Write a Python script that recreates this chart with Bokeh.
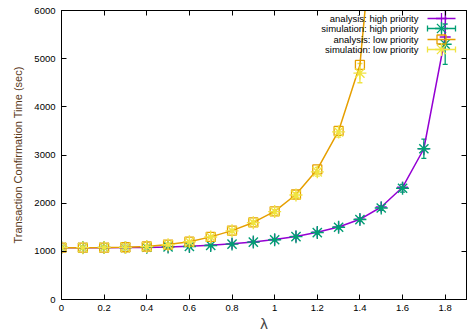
from bokeh.plotting import figure
from bokeh.models import Range1d, FixedTicker, LinearAxis, Whisker, TeeHead, ColumnDataSource
from bokeh.embed import file_html
from bokeh.resources import INLINE
from bokeh.core.properties import value

# ---- data ----
lam_ana_high = [0.0, 0.1, 0.2, 0.3, 0.4, 0.5, 0.6, 0.7, 0.8, 0.9, 1.0, 1.1, 1.2, 1.3, 1.4, 1.5, 1.6, 1.7, 1.8, 1.9]
ana_high = [1075, 1075, 1076, 1078, 1082, 1090, 1105, 1125, 1155, 1195, 1245, 1310, 1395, 1505, 1665, 1920, 2330, 3130, 5450, 60000]

lam_sim_high = [0.0, 0.1, 0.2, 0.3, 0.4, 0.5, 0.6, 0.7, 0.8, 0.9, 1.0, 1.1, 1.2, 1.3, 1.4, 1.5, 1.6, 1.7, 1.8]
sim_high = [1080, 1078, 1080, 1079, 1085, 1092, 1100, 1122, 1150, 1192, 1240, 1305, 1390, 1500, 1660, 1900, 2310, 3130, 5300]
sim_high_err = [10, 10, 10, 10, 12, 12, 15, 15, 18, 20, 22, 25, 30, 35, 40, 50, 80, 200, 420]

lam_ana_low = [0.0, 0.1, 0.2, 0.3, 0.4, 0.5, 0.6, 0.7, 0.8, 0.9, 1.0, 1.1, 1.2, 1.3, 1.4, 1.5]
ana_low = [1075, 1075, 1078, 1085, 1100, 1140, 1200, 1300, 1430, 1600, 1830, 2180, 2700, 3500, 4870, 9600]

lam_sim_low = [0.0, 0.1, 0.2, 0.3, 0.4, 0.5, 0.6, 0.7, 0.8, 0.9, 1.0, 1.1, 1.2, 1.3, 1.4]
sim_low = [1080, 1076, 1080, 1082, 1098, 1138, 1198, 1298, 1425, 1595, 1825, 2170, 2650, 3480, 4700]
sim_low_err = [15, 15, 15, 15, 18, 20, 22, 25, 30, 35, 40, 50, 90, 110, 200]

x_ticks = [0, 0.2, 0.4, 0.6, 0.8, 1, 1.2, 1.4, 1.6, 1.8]
x_tick_labels = ["0", "0.2", "0.4", "0.6", "0.8", "1", "1.2", "1.4", "1.6", "1.8"]
y_ticks = [0, 1000, 2000, 3000, 4000, 5000, 6000]

legend_labels = ["analysis: high priority", "simulation: high priority",
                 "analysis: low priority", "simulation: low priority"]

PURPLE = "#9400D3"
GREEN = "#009E73"
ORANGE = "#E69F00"
YELLOW = "#F0E442"
FONT = "Liberation Sans"

p = figure(width=476, height=334, x_range=Range1d(0, 1.9), y_range=Range1d(0, 6000),
           output_backend="svg", toolbar_location=None,
           min_border_left=61, min_border_right=10, min_border_top=10, min_border_bottom=35)
p.grid.visible = False
p.outline_line_color = "black"
p.outline_line_width = 1
p.outline_line_alpha = 1
p.background_fill_color = "white"
p.border_fill_color = "white"

xa = p.xaxis[0]
xa.ticker = FixedTicker(ticks=x_ticks)
xa.major_label_overrides = dict(zip(x_ticks, x_tick_labels))
ya = p.yaxis[0]
ya.ticker = FixedTicker(ticks=y_ticks)
for ax in (xa, ya):
    ax.major_tick_in = 5
    ax.major_tick_out = 0
    ax.minor_tick_in = 0
    ax.minor_tick_out = 0
    ax.axis_line_color = "black"
    ax.major_tick_line_color = "black"
    ax.major_label_text_font = FONT
    ax.major_label_text_font_size = "9.5px"
    ax.major_label_text_color = "black"
    ax.axis_label_text_font = FONT
    ax.axis_label_text_font_style = "normal"
xa.major_label_standoff = 5
ya.major_label_standoff = 6
xa.axis_label = "λ"
xa.axis_label_text_font_size = "15px"
xa.axis_label_standoff = 1
ya.axis_label = "Transaction Confirmation Time (sec)"
ya.axis_label_text_font_size = "11px"
ya.axis_label_text_color = "#5a3a1a"
ya.axis_label_standoff = 7

# mirrored tick marks (gnuplot style), without labels
top = LinearAxis(ticker=FixedTicker(ticks=x_ticks), major_label_text_font_size="0px",
                 major_label_text_color=None,
                 major_tick_in=5, major_tick_out=0, minor_tick_in=0, minor_tick_out=0,
                 major_label_standoff=0, axis_line_color="black")
right = LinearAxis(ticker=FixedTicker(ticks=y_ticks), major_label_text_font_size="0px",
                   major_label_text_color=None,
                   major_tick_in=5, major_tick_out=0, minor_tick_in=0, minor_tick_out=0,
                   major_label_standoff=0, axis_line_color="black")
p.add_layout(top, "above")
p.add_layout(right, "right")

# ---- data series ----
src_ah = ColumnDataSource(dict(x=lam_ana_high, y=ana_high))
p.line("x", "y", source=src_ah, line_color=PURPLE, line_width=1.5)
p.scatter("x", "y", source=src_ah, marker="cross", size=11, line_color=PURPLE, line_width=1.4)

src_sh = ColumnDataSource(dict(x=lam_sim_high, y=sim_high,
                               lo=[v - e for v, e in zip(sim_high, sim_high_err)],
                               hi=[v + e for v, e in zip(sim_high, sim_high_err)]))
p.add_layout(Whisker(base="x", lower="lo", upper="hi", source=src_sh, line_color=GREEN, line_width=1.3,
                     lower_head=TeeHead(size=5, line_color=GREEN, line_width=1.3),
                     upper_head=TeeHead(size=5, line_color=GREEN, line_width=1.3)))
p.scatter("x", "y", source=src_sh, marker="asterisk", size=13, line_color=GREEN, line_width=1.4)

src_al = ColumnDataSource(dict(x=lam_ana_low, y=ana_low))
p.line("x", "y", source=src_al, line_color=ORANGE, line_width=1.5)
p.scatter("x", "y", source=src_al, marker="square", size=9, line_color=ORANGE, fill_color=None, line_width=1.3)

src_sl = ColumnDataSource(dict(x=lam_sim_low, y=sim_low,
                               lo=[v - e for v, e in zip(sim_low, sim_low_err)],
                               hi=[v + e for v, e in zip(sim_low, sim_low_err)]))
p.add_layout(Whisker(base="x", lower="lo", upper="hi", source=src_sl, line_color=YELLOW, line_width=1.3,
                     lower_head=TeeHead(size=5, line_color=YELLOW, line_width=1.3),
                     upper_head=TeeHead(size=5, line_color=YELLOW, line_width=1.3)))
p.scatter("x", "y", source=src_sl, marker="asterisk", size=13, line_color=YELLOW, line_width=1.4)

# ---- legend (gnuplot style: text right-aligned, sample on the right) ----
p.extra_x_ranges = {"lx": Range1d(0, 405)}
p.extra_y_ranges = {"ly": Range1d(0, 289)}
rows_y = [281, 271, 260, 250]
tx = 357
s0, s1, sc = 366, 394, 380
colors = [PURPLE, GREEN, ORANGE, YELLOW]
p.text(x=[tx] * 4, y=rows_y, text=legend_labels, x_range_name="lx", y_range_name="ly",
       text_align="right", text_baseline="middle", text_font=value(FONT),
       text_font_size="9.5px", text_color="black")
for i, (yy, c) in enumerate(zip(rows_y, colors)):
    p.segment(x0=[s0], y0=[yy], x1=[s1], y1=[yy], line_color=c, line_width=1.5,
              x_range_name="lx", y_range_name="ly")
    if i in (1, 3):
        p.segment(x0=[s0, s1, sc], y0=[yy - 3, yy - 3, yy - 5], x1=[s0, s1, sc], y1=[yy + 3, yy + 3, yy + 5],
                  line_color=c, line_width=1.3, x_range_name="lx", y_range_name="ly")
    marker = ["cross", "asterisk", "square", "asterisk"][i]
    size = [11, 13, 9, 13][i]
    p.scatter(x=[sc], y=[yy], marker=marker, size=size, line_color=c, fill_color=None,
              line_width=1.3, x_range_name="lx", y_range_name="ly")

open("out.html", "w").write(file_html(p, INLINE))
